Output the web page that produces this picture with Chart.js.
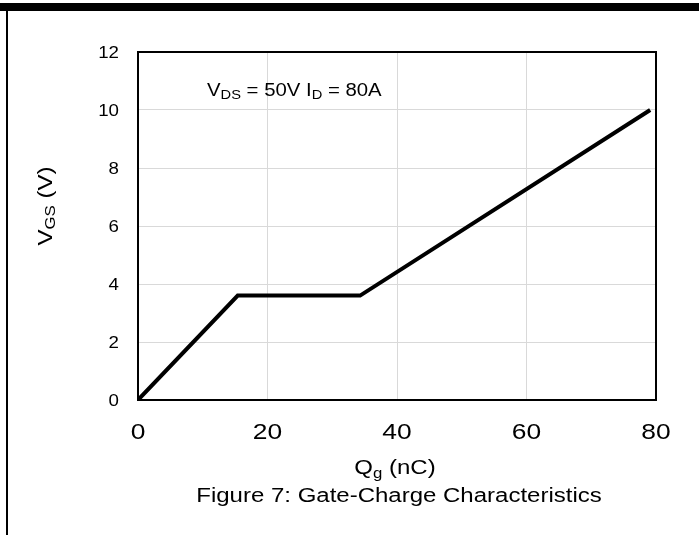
<!DOCTYPE html>
<html>
<head>
<meta charset="utf-8">
<script src="https://cdn.jsdelivr.net/npm/chart.js@4/dist/chart.umd.min.js"></script>
<style>
html,body{margin:0;padding:0;background:#fff;}
#wrap{width:699px;height:535px;position:relative;}
</style>
</head>
<body>
<div id="wrap"><canvas id="c" width="699" height="535"></canvas></div>
<script>
// Data
const chargeNC = [0, 15.4, 34.3, 79.1];
const gateVolts = [0, 3.6, 3.6, 10];
const xTicks = [0, 20, 40, 60, 80];
const yTicks = [0, 2, 4, 6, 8, 10, 12];
const conditionText = {vds: '50V', id: '80A'};
const captionText = 'Figure 7: Gate-Charge Characteristics';

const FONT = '"Liberation Sans", Arial, sans-serif';
const SX = 1.2; // horizontal text stretch seen in the reference

// draw a run of text parts (with optional subscripts), horizontally stretched
function drawRun(ctx, parts, x, y, align, sx) {
  let total = 0;
  const widths = parts.map(p => {
    ctx.font = p.font;
    const w = ctx.measureText(p.t).width * sx;
    total += w;
    return w;
  });
  let cx = align === 'center' ? x - total / 2 : (align === 'right' ? x - total : x);
  parts.forEach((p, i) => {
    ctx.save();
    ctx.font = p.font;
    ctx.textAlign = 'left';
    ctx.translate(cx, y + (p.dy || 0));
    ctx.scale(sx, 1);
    ctx.fillText(p.t, 0, 0);
    ctx.restore();
    cx += widths[i];
  });
  return total;
}

const decor = {
  id: 'decor',
  beforeDraw(chart) {
    const ctx = chart.ctx;
    ctx.save();
    ctx.fillStyle = '#fff';
    ctx.fillRect(0, 0, chart.width, chart.height);
    ctx.restore();
  },
  afterDatasetsDraw(chart) {
    const ctx = chart.ctx;
    const a = chart.chartArea;
    ctx.save();
    ctx.strokeStyle = '#000';
    ctx.lineWidth = 2;
    ctx.strokeRect(a.left, a.top, a.right - a.left, a.bottom - a.top);
    ctx.restore();
  },
  afterDraw(chart) {
    const ctx = chart.ctx;
    const a = chart.chartArea;
    const xs = chart.scales.x, ys = chart.scales.y;
    ctx.save();
    ctx.fillStyle = '#000';
    ctx.fillRect(0, 3, chart.width, 8);
    ctx.fillRect(6, 3, 2, chart.height);
    ctx.textBaseline = 'alphabetic';
    // tick labels, positioned by the chart's own scales
    const fy = '17px ' + FONT, fx = '22px ' + FONT;
    ys.ticks.forEach(t => {
      const py = ys.getPixelForValue(t.value);
      drawRun(ctx, [{t: String(t.value), font: fy}], 119, py + 6, 'right', 1.1);
    });
    xs.ticks.forEach(t => {
      const px = xs.getPixelForValue(t.value);
      drawRun(ctx, [{t: String(t.value), font: fx}], px, 439, 'center', SX);
    });
    // annotation
    const f18 = '18px ' + FONT, f13 = '13px ' + FONT;
    drawRun(ctx, [
      {t: 'V', font: f18},
      {t: 'DS', font: f13, dy: 3},
      {t: ' = ' + conditionText.vds + ' I', font: f18},
      {t: 'D', font: f13, dy: 3},
      {t: ' = ' + conditionText.id, font: f18}
    ], 207, 96, 'left', 1.13);
    // x axis title
    const f20 = '20px ' + FONT, f14 = '14px ' + FONT;
    const cx = (a.left + a.right) / 2;
    drawRun(ctx, [
      {t: 'Q', font: f20},
      {t: 'g', font: f14, dy: 4},
      {t: ' (nC)', font: f20}
    ], cx - 2, 474, 'center', SX);
    // caption
    drawRun(ctx, [{t: captionText, font: f20}], cx + 2, 502, 'center', SX);
    // y axis title rotated
    ctx.translate(52, 206);
    ctx.rotate(-Math.PI / 2);
    drawRun(ctx, [
      {t: 'V', font: f20},
      {t: 'GS', font: f14, dy: 3},
      {t: ' (V)', font: f20}
    ], 0, 0, 'center', SX);
    ctx.restore();
  }
};

new Chart(document.getElementById('c'), {
  type: 'scatter',
  data: {
    datasets: [{
      data: chargeNC.map((x, i) => ({x, y: gateVolts[i]})),
      showLine: true,
      borderColor: '#000',
      borderWidth: 4,
      pointRadius: 0,
      fill: false,
      tension: 0,
      borderJoinStyle: 'miter'
    }]
  },
  options: {
    responsive: false,
    animation: false,
    devicePixelRatio: 1,
    layout: {padding: {left: 0, top: 52, right: 43, bottom: 0}},
    plugins: {legend: {display: false}, tooltip: {enabled: false}},
    scales: {
      x: {
        type: 'linear', min: 0, max: 80,
        afterBuildTicks(s) { s.ticks = xTicks.map(v => ({value: v})); },
        afterFit(s) { s.height = 135; },
        grid: {color: '#d9d9d9', lineWidth: 1, drawTicks: false},
        border: {display: false},
        ticks: {display: false}
      },
      y: {
        type: 'linear', min: 0, max: 12,
        afterBuildTicks(s) { s.ticks = yTicks.map(v => ({value: v})); },
        afterFit(s) { s.width = 138; },
        grid: {color: '#d9d9d9', lineWidth: 1, drawTicks: false},
        border: {display: false},
        ticks: {display: false}
      }
    }
  },
  plugins: [decor]
});
</script>
</body>
</html>
